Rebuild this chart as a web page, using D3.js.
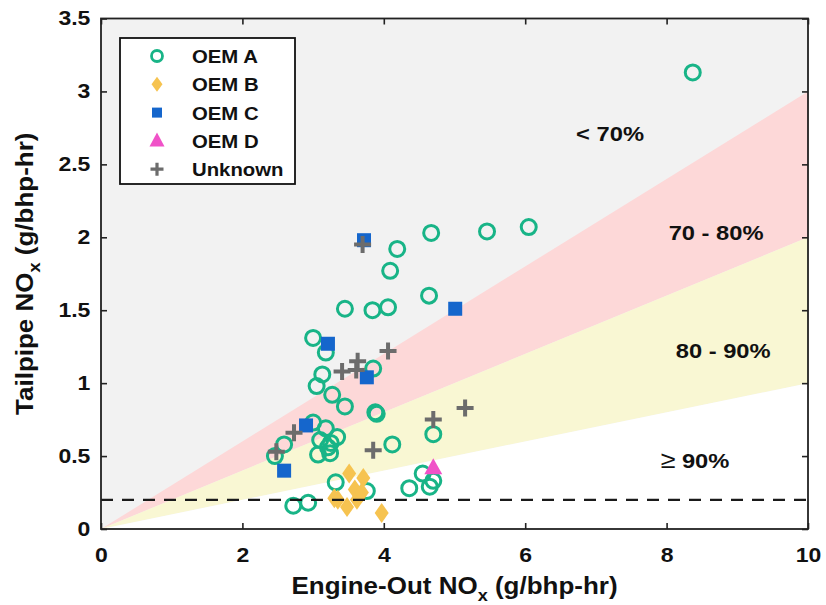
<!DOCTYPE html>
<html>
<head>
<meta charset="utf-8">
<script src="https://cdn.jsdelivr.net/npm/d3@7"></script>
<style>
  body { margin: 0; background: #fff; }
  svg text { font-family: "Liberation Sans", Arial, sans-serif; font-weight: bold; fill: #111; }
</style>
</head>
<body>
<div id="chart"></div>
<script>
// engine-out vs tailpipe NOx (g/bhp-hr)
const oemA = [
    [8.37, 3.13], [4.67, 2.03], [5.46, 2.04], [6.05, 2.07], [4.19, 1.92], [4.09, 1.77],
    [4.64, 1.60], [3.45, 1.51], [3.84, 1.50], [4.06, 1.52], [3.00, 1.31], [3.18, 1.21],
    [3.13, 1.06], [3.05, 0.98], [3.27, 0.92], [3.45, 0.84], [3.85, 1.10], [3.88, 0.80],
    [3.90, 0.79], [4.12, 0.58], [4.70, 0.65], [2.46, 0.50], [2.59, 0.58], [3.00, 0.73],
    [3.18, 0.69], [3.10, 0.61], [3.25, 0.59], [3.34, 0.63], [3.07, 0.51], [3.24, 0.52],
    [3.21, 0.56], [3.32, 0.32], [2.72, 0.16], [2.93, 0.18], [3.76, 0.26], [4.36, 0.28],
    [4.55, 0.38], [4.65, 0.29], [4.70, 0.33]
];
const oemB = [[3.51, 0.38], [3.71, 0.35], [3.59, 0.27], [3.35, 0.20], [3.48, 0.15],
    [3.62, 0.20], [3.69, 0.25], [3.30, 0.21], [3.97, 0.11]];
const oemC = [[3.72, 1.98], [5.01, 1.51], [3.21, 1.27], [3.76, 1.04], [2.90, 0.71], [2.59, 0.40]];
const oemD = [[4.70, 0.42]];
const unknown = [[3.70, 1.95], [4.06, 1.22], [3.41, 1.08], [3.63, 1.15], [3.61, 1.09],
    [3.85, 0.54], [4.70, 0.75], [5.15, 0.83], [2.73, 0.66], [2.48, 0.53]];

const seriesNames = ["OEM A", "OEM B", "OEM C", "OEM D", "Unknown"];

// reduction bands: tailpipe = slope * engine-out
const bandSlopes = [0.1, 0.2, 0.3];
const bandLabels = ["\u2265 90%", "80 - 90%", "70 - 80%", "< 70%"];
const bandLabelPos = [[8.4, 0.42], [8.8, 1.17], [8.7, 1.98], [7.2, 2.66]];
const limitLine = 0.2;

const xTicks = [0, 2, 4, 6, 8, 10];
const yTicks = [0, 0.5, 1, 1.5, 2, 2.5, 3, 3.5];

const width = 826, height = 605;
const margin = { top: 18.5, right: 18, bottom: 76, left: 101 };
const sx = 1.13; // glyphs in the source are a bit wider than Arial

const x = d3.scaleLinear().domain([0, 10]).range([margin.left, width - margin.right]);
const y = d3.scaleLinear().domain([0, 3.5]).range([height - margin.bottom, margin.top]);

const svg = d3.select("#chart").append("svg")
    .attr("width", width)
    .attr("height", height);

// background (< 70%)
svg.append("rect")
    .attr("x", x(0)).attr("y", y(3.5))
    .attr("width", x(10) - x(0)).attr("height", y(0) - y(3.5))
    .attr("fill", "#f2f2f2");

const bandColors = ["#ffffff", "#f9f7d3", "#fdd8d8"];
const bands = bandSlopes.map((s, i) => ({
    hi: s, lo: i === 0 ? 0 : bandSlopes[i - 1], fill: bandColors[i]
}));
const line = d3.line().x(d => x(d[0])).y(d => y(d[1]));
svg.append("g").selectAll("path")
    .data(bands.slice().reverse())
    .enter()
    .append("path")
        .attr("d", d => line([[0, 0], [10, d.hi * 10], [10, d.lo * 10]]) + "Z")
        .attr("fill", d => d.fill);

// markers
const green = "#18b487", orange = "#f6c350", blue = "#1566cc", pink = "#f052c8", grey = "#6c6c6c";

const drawA = (g, r, sw) => g.append("circle").attr("r", r)
    .attr("fill", "none").attr("stroke", green).attr("stroke-width", sw);
const drawB = (g, w, h) => g.append("path")
    .attr("d", `M0,${-h / 2}L${w / 2},0L0,${h / 2}L${-w / 2},0Z`).attr("fill", orange);
const drawC = (g, s) => g.append("rect")
    .attr("x", -s / 2).attr("y", -s / 2).attr("width", s).attr("height", s).attr("fill", blue);
const drawD = (g, w, h) => g.append("path")
    .attr("d", `M0,${-h * 0.6}L${w / 2},${h * 0.4}L${-w / 2},${h * 0.4}Z`).attr("fill", pink);
const drawU = (g, a, sw) => g.append("path")
    .attr("d", `M${-a},0H${a}M0,${-a}V${a}`).attr("stroke", grey).attr("stroke-width", sw);

const plotSeries = function (data, draw) {
    svg.append("g").selectAll("g")
        .data(data)
        .enter()
        .append("g")
            .attr("transform", d => `translate(${x(d[0])},${y(d[1])})`)
            .each(function () { draw(d3.select(this)); });
};
plotSeries(oemA, g => drawA(g, 7.5, 3));
plotSeries(oemB, g => drawB(g, 14, 20));
plotSeries(oemC, g => drawC(g, 14));
plotSeries(oemD, g => drawD(g, 18, 16));
plotSeries(unknown, g => drawU(g, 8.5, 4));

// 0.2 g/bhp-hr line
svg.append("line")
    .attr("x1", x(0)).attr("x2", x(10))
    .attr("y1", y(limitLine)).attr("y2", y(limitLine))
    .attr("stroke", "#1a1a1a").attr("stroke-width", 2.2)
    .attr("stroke-dasharray", "12,9");

// axes with inward ticks on all four sides
const fmt = d3.format("");
const xAxis = svg.append("g")
    .attr("transform", `translate(0,${y(0)})`)
    .call(d3.axisBottom(x).tickValues(xTicks).tickFormat(fmt).tickSizeInner(-6).tickSizeOuter(0).tickPadding(19));
const yAxis = svg.append("g")
    .attr("transform", `translate(${x(0)},0)`)
    .call(d3.axisLeft(y).tickValues(yTicks).tickFormat(fmt).tickSizeInner(-6).tickSizeOuter(0).tickPadding(9));
svg.append("g")
    .attr("transform", `translate(0,${y(3.5)})`)
    .call(d3.axisTop(x).tickValues(xTicks).tickFormat("").tickSizeInner(-6).tickSizeOuter(0));
svg.append("g")
    .attr("transform", `translate(${x(10)},0)`)
    .call(d3.axisRight(y).tickValues(yTicks).tickFormat("").tickSizeInner(-6).tickSizeOuter(0));

svg.selectAll(".domain").remove();
svg.selectAll(".tick line").attr("stroke", "#222").attr("stroke-width", 1.6);
[xAxis, yAxis].forEach(a => a.selectAll("text")
    .attr("font-size", 19.5)
    .attr("font-family", "Liberation Sans, Arial, sans-serif")
    .attr("font-weight", "bold")
    .attr("fill", "#111")
    .attr("transform", "scale(1.18,1)"));

svg.append("rect")
    .attr("x", x(0)).attr("y", y(3.5))
    .attr("width", x(10) - x(0)).attr("height", y(0) - y(3.5))
    .attr("fill", "none").attr("stroke", "#222").attr("stroke-width", 1.8);

// band labels
svg.append("g").selectAll("text")
    .data(bandLabels)
    .enter()
    .append("text")
        .attr("transform", (d, i) => `translate(${x(bandLabelPos[i][0])},${y(bandLabelPos[i][1])}) scale(${sx},1)`)
        .attr("text-anchor", "middle")
        .attr("font-size", 21)
        .each(function (d) {
            const t = d3.select(this);
            if (d.startsWith("\u2265")) {
                t.append("tspan").attr("font-weight", "normal").attr("font-size", 24).text("\u2265");
                t.append("tspan").text(d.slice(1));
            } else {
                t.text(d);
            }
        });

// axis titles
const xTitle = svg.append("text")
    .attr("transform", `translate(${(x(0) + x(10)) / 2},594) scale(${sx},1)`)
    .attr("text-anchor", "middle")
    .attr("font-size", 23);
xTitle.append("tspan").text("Engine-Out NO");
xTitle.append("tspan").attr("font-size", 16).attr("dy", 7).text("x");
xTitle.append("tspan").attr("dy", -7).text(" (g/bhp-hr)");

const yTitle = svg.append("text")
    .attr("transform", `translate(33,${(y(0) + y(3.5)) / 2}) rotate(-90) scale(${sx},1)`)
    .attr("text-anchor", "middle")
    .attr("font-size", 23);
yTitle.append("tspan").text("Tailpipe NO");
yTitle.append("tspan").attr("font-size", 16).attr("dy", 7).text("x");
yTitle.append("tspan").attr("dy", -7).text(" (g/bhp-hr)");

// legend
const legend = svg.append("g").attr("transform", "translate(120,38)");
legend.append("rect")
    .attr("width", 175).attr("height", 146)
    .attr("fill", "#fff").attr("stroke", "#111").attr("stroke-width", 1.8);
const legendDraw = [
    g => drawA(g, 5.5, 2.8),
    g => drawB(g, 11, 15),
    g => drawC(g, 10),
    g => drawD(g, 15, 14),
    g => drawU(g, 6.5, 3.2)
];
const rows = legend.selectAll("g.row")
    .data(seriesNames)
    .enter()
    .append("g")
        .attr("class", "row")
        .attr("transform", (d, i) => `translate(0,${18 + i * 28.3})`);
rows.append("g")
    .attr("transform", "translate(37,0)")
    .each(function (d, i) { legendDraw[i](d3.select(this)); });
rows.append("text")
    .attr("transform", `translate(72,7) scale(${sx},1)`)
    .attr("font-size", 18)
    .text(d => d);
</script>
</body>
</html>
